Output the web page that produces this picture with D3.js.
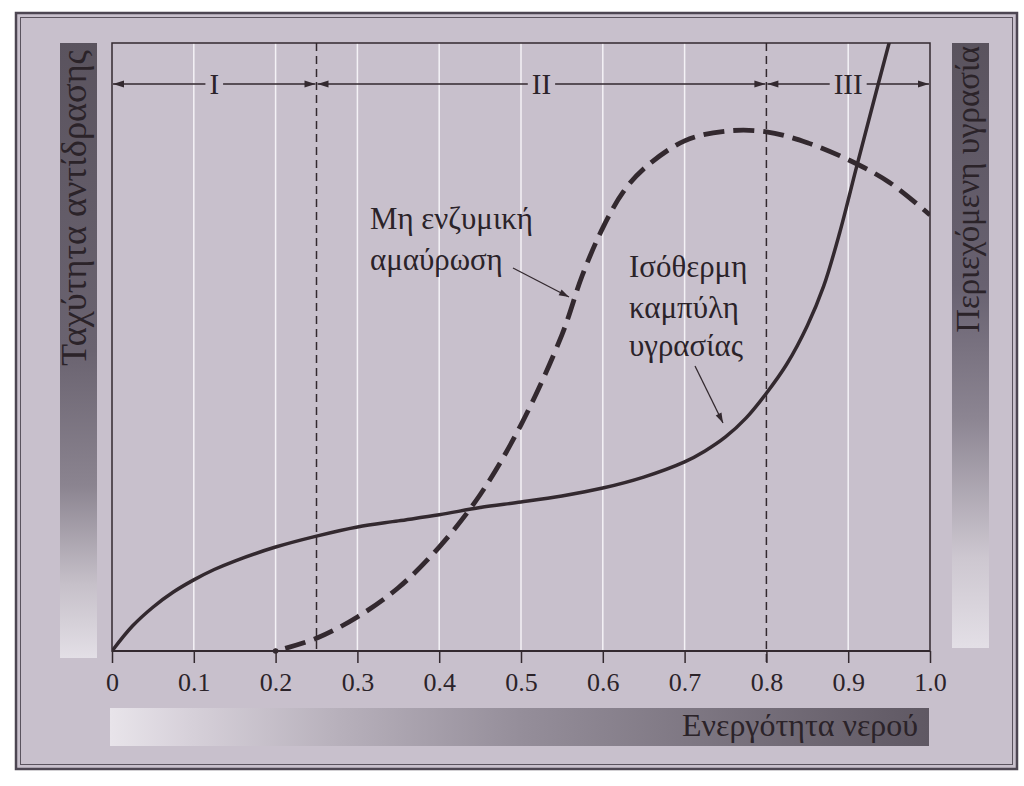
<!DOCTYPE html>
<html><head><meta charset="utf-8">
<script src="https://cdn.jsdelivr.net/npm/d3@7"></script>
<style>
body{margin:0;background:#fff}
svg{display:block}
text{font-family:"Liberation Serif","Times New Roman",serif;fill:#2b2329}
</style>
</head><body>
<svg id="c" width="1024" height="786"></svg>
<script>
// ---- data ----
const xTicks = [0,0.1,0.2,0.3,0.4,0.5,0.6,0.7,0.8,0.9,1.0];
const tickLabels = ["0","0.1","0.2","0.3","0.4","0.5","0.6","0.7","0.8","0.9","1.0"];
const gridA = [0.1,0.2,0.3,0.4,0.5,0.6,0.7,0.9];
const zoneBounds = [0,0.25,0.8,1.0];
const zoneLabels = ["I","II","III"];
// moisture sorption isotherm (relative units)
const isoA = [0,0.025,0.05,0.075,0.1,0.125,0.15,0.2,0.25,0.3,0.35,0.4,0.45,0.5,0.55,0.6,0.65,0.7,0.725,0.75,0.775,0.8,0.825,0.85,0.87,0.89,0.91,0.93,0.95,0.96];
const isoV = [0,0.041,0.072,0.097,0.117,0.134,0.148,0.171,0.189,0.204,0.214,0.224,0.236,0.245,0.255,0.268,0.286,0.311,0.329,0.352,0.383,0.424,0.472,0.535,0.60,0.69,0.795,0.898,1.0,1.05];
// non-enzymatic browning rate (relative units)
const brownA = [0.2,0.25,0.3,0.35,0.4,0.45,0.5,0.55,0.575,0.6,0.625,0.65,0.7,0.75,0.8,0.85,0.9,0.95,1.0];
const brownV = [0,0.021,0.056,0.104,0.171,0.257,0.372,0.52,0.618,0.696,0.755,0.793,0.839,0.855,0.854,0.836,0.808,0.771,0.717];
const yLeftLabel = "Ταχύτητα αντίδρασης";
const yRightLabel = "Περιεχόμενη υγρασία";
const xLabel = "Ενεργότητα νερού";
const noteBrown = ["Μη ενζυμική","αμαύρωση"];
const noteIso = ["Ισόθερμη","καμπύλη","υγρασίας"];

// ---- layout ----
const L=112, R=930, T=43, B=651;
const ink="#33292f";
const svg=d3.select("#c");
const x=d3.scaleLinear().domain([0,1]).range([L,R]);
const y=d3.scaleLinear().domain([0,1]).range([B,T]);

const defs=svg.append("defs");
function grad(id,x2,y2,stops){
  const g=defs.append("linearGradient").attr("id",id).attr("x1",0).attr("y1",0).attr("x2",x2).attr("y2",y2);
  stops.forEach(s=>g.append("stop").attr("offset",s[0]).attr("stop-color",s[1]));
}
grad("vg",0,1,[[0,"#5a535e"],[0.5,"#6a6370"],[0.72,"#8b8490"],[0.88,"#c6c0c9"],[1,"#e3dfe6"]]);
grad("vg2",0,1,[[0,"#5a535e"],[0.4,"#686170"],[0.62,"#8c8592"],[0.85,"#cdc7d0"],[1,"#e3dfe6"]]);
grad("hg",1,0,[[0,"#e8e4ea"],[0.1,"#d6d0d9"],[0.28,"#b7b0bb"],[0.5,"#958e9a"],[1,"#5f5863"]]);
defs.append("clipPath").attr("id","clip").append("rect").attr("x",L).attr("y",T).attr("width",R-L).attr("height",B-T);

// background + frame
svg.append("rect").attr("x",16).attr("y",13).attr("width",1001).attr("height",756).attr("fill","#c8c0cc");
svg.append("rect").attr("x",16).attr("y",13).attr("width",1001).attr("height",756).attr("fill","none").attr("stroke","#4d4652").attr("stroke-width",2.5);
svg.append("rect").attr("x",20.5).attr("y",17.5).attr("width",992).attr("height",747).attr("fill","none").attr("stroke","#5a535e").attr("stroke-width",1);

// side bars
svg.append("rect").attr("x",60).attr("y",T).attr("width",37).attr("height",615).attr("fill","url(#vg)");
svg.append("rect").attr("x",952).attr("y",T).attr("width",37).attr("height",605).attr("fill","url(#vg2)");
svg.append("rect").attr("x",110).attr("y",708).attr("width",819).attr("height",38).attr("fill","url(#hg)");

function fit(sel,target){
  const n=sel.node(); const s=parseFloat(sel.attr("font-size"));
  const len=n.getComputedTextLength();
  sel.attr("font-size",(s*target/len).toFixed(2));
}
const tl=svg.append("text").attr("transform","translate(86,50) rotate(-90)").attr("text-anchor","end").attr("font-size",28).text(yLeftLabel);
fit(tl,316);
const tr=svg.append("text").attr("transform","translate(979,46) rotate(-90)").attr("text-anchor","end").attr("font-size",28).text(yRightLabel);
fit(tr,287);
const tx=svg.append("text").attr("x",918).attr("y",736).attr("text-anchor","end").attr("font-size",28).text(xLabel);
fit(tx,236);

// grid
svg.append("g").selectAll("line").data(gridA).join("line")
  .attr("x1",d=>x(d)).attr("x2",d=>x(d)).attr("y1",T).attr("y2",B)
  .attr("stroke","#f4f2f6").attr("stroke-width",1.5);

// zone boundaries
svg.append("g").selectAll("line").data(zoneBounds.slice(1,3)).join("line")
  .attr("x1",d=>x(d)).attr("x2",d=>x(d)).attr("y1",T).attr("y2",d=>d===0.8?B+12:B)
  .attr("stroke",ink).attr("stroke-width",1.5).attr("stroke-dasharray","8,5");

// plot frame
svg.append("rect").attr("x",L).attr("y",T).attr("width",R-L).attr("height",B-T).attr("fill","none").attr("stroke",ink).attr("stroke-width",1.5);
svg.append("line").attr("x1",L).attr("x2",R).attr("y1",B).attr("y2",B).attr("stroke",ink).attr("stroke-width",2);

// x axis ticks
const ax=svg.append("g").attr("transform",`translate(0,${B})`)
  .call(d3.axisBottom(x).tickValues(xTicks).tickFormat((d,i)=>tickLabels[i]).tickSize(12).tickPadding(10));
ax.select(".domain").remove();
ax.selectAll(".tick line").attr("stroke",ink).attr("stroke-width",1.5);
ax.selectAll(".tick text").attr("font-size",26).attr("font-family","'Liberation Serif',serif").attr("fill","#2b2329");

// curves
const g=svg.append("g").attr("clip-path","url(#clip)");
const line=d3.line().x(d=>x(d[0])).y(d=>y(d[1])).curve(d3.curveCatmullRom.alpha(0.5));
g.append("path").attr("d",line(isoA.map((a,i)=>[a,isoV[i]])))
  .attr("fill","none").attr("stroke",ink).attr("stroke-width",3.5);
g.append("path").attr("d",line(brownA.map((a,i)=>[a,brownV[i]])))
  .attr("fill","none").attr("stroke",ink).attr("stroke-width",4.8)
  .attr("stroke-dasharray","21,9").attr("stroke-dashoffset",20);
svg.append("circle").attr("cx",x(brownA[0])).attr("cy",y(brownV[0])).attr("r",2.8).attr("fill",ink);

// arrow helper
function arrowHead(x0,y0,x1,y1,len,hw){
  const dx=x1-x0, dy=y1-y0, d=Math.hypot(dx,dy), ux=dx/d, uy=dy/d;
  const bx=x1-ux*len, by=y1-uy*len;
  return `M${x1},${y1}L${bx-uy*hw},${by+ux*hw}L${bx+uy*hw},${by-ux*hw}Z`;
}

// zone arrows
const zy=84;
zoneLabels.forEach((lab,i)=>{
  const a0=x(zoneBounds[i])+1, a1=x(zoneBounds[i+1])-1, cx=(x(zoneBounds[i])+x(zoneBounds[i+1]))/2;
  const t=svg.append("text").attr("x",cx).attr("y",zy+10).attr("text-anchor","middle").attr("font-size",29).text(lab);
  const w=t.node().getComputedTextLength()/2+4;
  svg.append("line").attr("x1",a0).attr("x2",cx-w).attr("y1",zy).attr("y2",zy).attr("stroke",ink).attr("stroke-width",1.3);
  svg.append("line").attr("x1",cx+w).attr("x2",a1).attr("y1",zy).attr("y2",zy).attr("stroke",ink).attr("stroke-width",1.3);
  svg.append("path").attr("d",arrowHead(cx,zy,a0,zy,11,3.5)).attr("fill",ink);
  svg.append("path").attr("d",arrowHead(cx,zy,a1,zy,11,3.5)).attr("fill",ink);
});

// annotations
const nb0=svg.append("text").attr("x",370).attr("y",229).attr("font-size",28).text(noteBrown[0]);
fit(nb0,163);
const fs=nb0.attr("font-size");
svg.append("text").attr("x",370).attr("y",270).attr("font-size",fs).text(noteBrown[1]);
[277,318,356].forEach((yy,i)=>svg.append("text").attr("x",629).attr("y",yy).attr("font-size",fs).text(noteIso[i]));
function pointer(x0,y0,x1,y1){
  svg.append("line").attr("x1",x0).attr("y1",y0).attr("x2",x1).attr("y2",y1).attr("stroke",ink).attr("stroke-width",1.3);
  svg.append("path").attr("d",arrowHead(x0,y0,x1,y1,10,3.2)).attr("fill",ink);
}
pointer(513,268,569,297);
pointer(695,366,723,423);
</script>
</body></html>
